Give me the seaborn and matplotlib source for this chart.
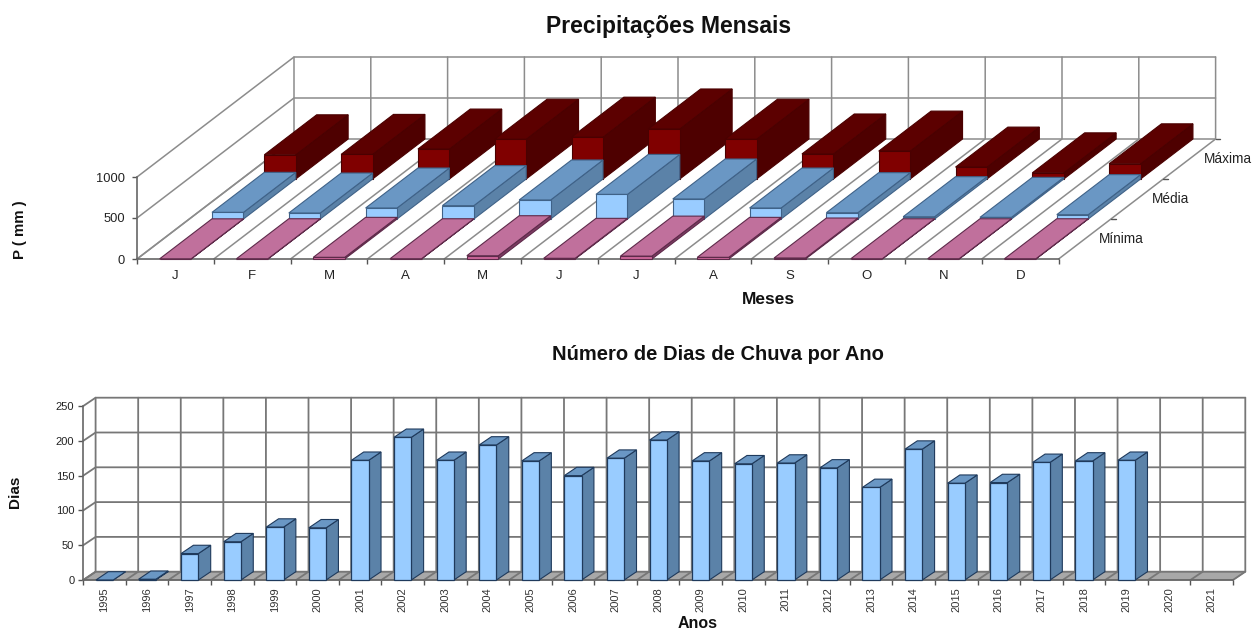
import numpy as np
import pandas as pd
import matplotlib
matplotlib.use("Agg")
import matplotlib.pyplot as plt
import seaborn as sns

meses = ["J", "F", "M", "A", "M", "J", "J", "A", "S", "O", "N", "D"]
minima = [2, 3, 20, 3, 40, 8, 35, 20, 12, 3, 3, 3]
media = [81, 73, 134, 163, 232, 300, 244, 134, 77, 28, 20, 53]
maxima = [295, 300, 365, 485, 510, 610, 485, 305, 340, 145, 75, 185]
series_nomes = ["Mínima", "Média", "Máxima"]

anos = list(range(1995, 2022))
dias = [0, 1, 38, 55, 76, 75, 172, 205, 172, 194, 171, 150, 175, 201, 171, 167, 168,
        161, 133, 188, 139, 140, 169, 171, 172, np.nan, np.nan]

W, H = 1253, 631
sns.set_theme(style="white", rc={"axes.facecolor": "none", "figure.facecolor": "white"})
plt.rcParams["font.family"] = ["Liberation Sans", "DejaVu Sans"]


def box(left, top, right, bottom):
    return [left / W, 1 - bottom / H, (right - left) / W, (bottom - top) / H]


def face(ax, xs, ys, fc, ec, z):
    ax.fill(xs, ys, facecolor=fc, edgecolor=ec, lw=0.8, zorder=z, clip_on=False)


def caixa(ax, x, y, base, width, d0, d1, dx, dy, top_c, side_c, ec, z):
    # top and right side of a bar between depth d0 and d1
    l, r = x - width / 2, x + width / 2
    x0, x1 = d0 * dx, d1 * dx
    y0, y1 = d0 * dy, d1 * dy
    face(ax, [r + x0, r + x1, r + x1, r + x0],
         [y0 + base, y1 + base, y1 + base + y, y0 + base + y], side_c, ec, z)
    face(ax, [l + x0, r + x0, r + x1, l + x1],
         [y0 + base + y, y0 + base + y, y1 + base + y, y1 + base + y], top_c, ec, z)


def moldura(ax, n, yticks, dx, dy, floor=None, grid="#8c8c8c", lw=1.1):
    ymax = yticks[-1]
    left, right = -0.5, n - 0.5
    if floor:
        ax.fill([left, right, right + dx, left + dx], [0, 0, dy, dy],
                facecolor=floor, edgecolor=grid, lw=0.8, zorder=0.5, clip_on=False)
    for v in yticks:
        ax.plot([left, left + dx, right + dx], [v, v + dy, v + dy], color=grid, lw=lw,
                zorder=1, clip_on=False)
    for i in range(n + 1):
        e = left + i
        ax.plot([e, e + dx, e + dx], [0, dy, dy + ymax], color=grid, lw=lw, zorder=1,
                clip_on=False)
    ax.set_xlim(left, right)
    ax.set_ylim(0, ymax)
    ax.set_yticks(yticks)
    sns.despine(ax=ax, top=True, right=True)
    for s in ["left", "bottom"]:
        ax.spines[s].set_color("#666666")
        ax.spines[s].set_linewidth(1.2)
        ax.spines[s].set_zorder(1.5)
    ax.tick_params(axis="both", which="major", length=3.5, width=1, color="#555555", left=True,
                   bottom=True)


fig = plt.figure(figsize=(W / 100, H / 100), dpi=100)

# monthly rain, three series one behind the other
ax1 = fig.add_axes(box(137, 177, 1058.6, 259))
DX1, DY1 = 157 / 76.8, 120 / 82 * 1000
LARG1 = 0.41
moldura(ax1, len(meses), [0, 500, 1000], DX1, DY1)
estilos = [
    (maxima, 2, "#800000", "#5c0000", "#4e0000", "#4a0000"),
    (media, 1, "#99ccff", "#6a97c4", "#5b82a8", "#3f6288"),
    (minima, 0, "#cc6699", "#c0709c", "#7c3b62", "#5e2a4a"),
]
for nivel, (vals, s, front, top, side, ec) in enumerate(estilos):
    d0, d1 = s / 3, (s + 1) / 3
    for i, v in enumerate(vals):
        caixa(ax1, i, v, 0, LARG1, d0, d1, DX1, DY1, top, side, ec, 2 + 2 * nivel)
    df = pd.DataFrame({"pos": np.arange(len(vals)) + d0 * DX1, "valor": vals})
    sns.barplot(data=df, x="pos", y="valor", native_scale=True, width=LARG1, color=front,
                saturation=1, edgecolor=ec, linewidth=0.8, bottom=d0 * DY1, zorder=3 + 2 * nivel,
                clip_on=False, ax=ax1, errorbar=None)
ax1.set_xlim(-0.5, len(meses) - 0.5)
ax1.set_ylim(0, 1000)
ax1.set_xlabel("")
ax1.set_ylabel("")
ax1.set_xticks(np.arange(len(meses) + 1) - 0.5)
ax1.set_xticklabels([])
ax1.set_xticks(np.arange(len(meses)), labels=meses, minor=True)
ax1.tick_params(axis="x", which="minor", length=0, labelsize=9.5, pad=8, labelcolor="#222222")
ax1.tick_params(axis="y", labelsize=9.3, labelcolor="#222222", pad=5)
for i, nome in enumerate(series_nomes):
    d = (i + 0.5) / 3
    ax1.text(len(meses) - 0.5 + d * DX1 + 0.19, d * DY1, nome, fontsize=9.8, color="#222222",
             va="center", ha="left", clip_on=False)
    dt = (i + 1) / 3
    ax1.plot([len(meses) - 0.5 + dt * DX1, len(meses) - 0.5 + dt * DX1 + 0.06], [dt * DY1] * 2,
             color="#555555", lw=1, clip_on=False, zorder=1)

# rainy days per year
ax2 = fig.add_axes(box(83.3, 406, 1233, 580))
DX2, DY2 = 12.3 / 42.6, 8.3 / 174 * 250
LARG2 = 0.406
moldura(ax2, len(anos), [0, 50, 100, 150, 200, 250], DX2, DY2, floor="#a8a8a8", grid="#777777", lw=1.3)
for i, v in enumerate(dias):
    if not np.isnan(v):
        caixa(ax2, i, v, 0, LARG2, 0, 1, DX2, DY2, "#6a97c4", "#5b82a8", "#1f3a5c", 4)
df2 = pd.DataFrame({"pos": np.arange(len(anos)), "valor": dias})
sns.barplot(data=df2, x="pos", y="valor", native_scale=True, width=LARG2, color="#99ccff",
            saturation=1, edgecolor="#1f3a5c", linewidth=0.9, zorder=5, clip_on=False, ax=ax2,
            errorbar=None)
ax2.set_xlim(-0.5, len(anos) - 0.5)
ax2.set_ylim(0, 250)
ax2.set_xlabel("")
ax2.set_ylabel("")
ax2.set_xticks(np.arange(len(anos) + 1) - 0.5)
ax2.set_xticklabels([])
ax2.set_xticks(np.arange(len(anos)), labels=anos, minor=True)
ax2.tick_params(axis="x", which="minor", length=0, labelsize=8, pad=5, labelrotation=90,
                labelcolor="#333333")
ax2.tick_params(axis="y", labelsize=8, labelcolor="#222222", pad=3)


def texto(x, y, s, **kw):
    fig.text(x / W, 1 - y / H, s, ha="center", va="center", fontweight="bold", color="#111111", **kw)


texto(669, 26, "Precipitações Mensais", fontsize=16.5)
texto(718, 354, "Número de Dias de Chuva por Ano", fontsize=14.5)
texto(768, 299, "Meses", fontsize=12.5)
texto(698, 624, "Anos", fontsize=11.5)
texto(20, 230, "P ( mm )", fontsize=10.8, rotation=90)
texto(15, 492, "Dias", fontsize=11, rotation=90)

fig.savefig("out.png", dpi=100)
